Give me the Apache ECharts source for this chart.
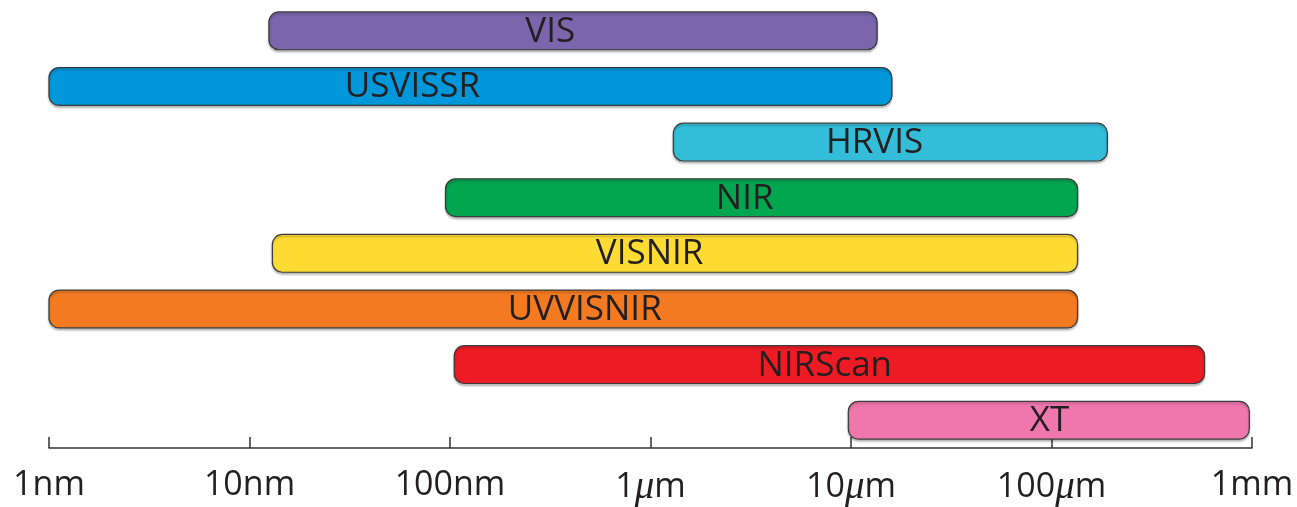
<!DOCTYPE html>
<html>
<head>
<meta charset="utf-8">
<script src="https://cdn.jsdelivr.net/npm/echarts@6/dist/echarts.min.js"></script>
<style>
html,body{margin:0;padding:0;background:#fff;}
#chart{width:1297px;height:507px;}
</style>
</head>
<body>
<div id="chart"></div>
<script>
// Wavelength ranges in nm (log scale 1 nm .. 1 mm)
var instruments = ['VIS', 'USVISSR', 'HRVIS', 'NIR', 'VISNIR', 'UVVISNIR', 'NIRScan', 'XT'];
var rangeStart  = [12.5, 1, 1300, 95, 13, 1, 105, 9700];
var rangeEnd    = [13500, 16000, 190000, 135000, 135000, 135000, 580000, 970000];
var labelAt     = [316, 65, 13100, 2950, 990, 470, 7400, 97800];
var barColors   = ['#7B65AD', '#0098DA', '#33BDD8', '#00A650', '#FEDB32', '#F37A21', '#ED1C24', '#F077AD'];
var tickLabels  = ['1nm', '10nm', '100nm', '1\u03bcm', '10\u03bcm', '100\u03bcm', '1mm'];

var seriesData = instruments.map(function (n, i) {
  return [i, rangeStart[i], rangeEnd[i], labelAt[i]];
});

var chart = echarts.init(document.getElementById('chart'));
var FONT = '"Open Sans", "Noto Sans", sans-serif';

chart.setOption({
  backgroundColor: '#ffffff',
  animation: false,
  grid: { left: 49, right: 45, top: 3, bottom: 57, containLabel: false },
  xAxis: {
    type: 'log',
    logBase: 10,
    min: 1,
    max: 1000000,
    axisLine: { show: true, lineStyle: { color: '#333333', width: 1.5 } },
    axisTick: { show: true, inside: true, length: 11, lineStyle: { color: '#333333', width: 1.5 } },
    splitLine: { show: false },
    axisLabel: {
      show: true,
      showMinLabel: true,
      showMaxLabel: true,
      margin: 20,
      color: '#231f20',
      fontFamily: FONT,
      fontSize: 34,
      formatter: function (v) {
        var idx = Math.round(Math.log(v) / Math.LN10);
        var t = tickLabels[idx] || '';
        var k = t.indexOf('\u03bc');
        if (k < 0) return '{n|' + t + '}';
        return '{n|' + t.slice(0, k) + '}{mu|\u03bc}{n|' + t.slice(k + 1) + '}';
      },
      rich: {
        n: { fontFamily: FONT, fontSize: 34, color: '#231f20' },
        mu: { fontFamily: '"Liberation Serif", "DejaVu Serif", serif', fontStyle: 'italic', fontSize: 39, color: '#231f20' }
      }
    }
  },
  yAxis: {
    type: 'category',
    data: instruments,
    inverse: true,
    show: false
  },
  series: [{
    type: 'custom',
    data: seriesData,
    encode: { x: [1, 2], y: 0 },
    renderItem: function (params, api) {
      var c = api.value(0);
      var p0 = api.coord([api.value(1), c]);
      var p1 = api.coord([api.value(2), c]);
      var pl = api.coord([api.value(3), c]);
      var h = api.size([1, 1])[1] * 0.68;
      var i = params.dataIndex;
      return {
        type: 'group',
        children: [{
          type: 'rect',
          shape: { x: p0[0], y: p0[1] - h / 2, width: p1[0] - p0[0], height: h, r: 10 },
          style: { fill: barColors[i], stroke: '#3a3a3a', lineWidth: 1.2,
                   shadowColor: 'rgba(0,0,0,0.25)', shadowOffsetY: 2, shadowBlur: 2 }
        }, {
          type: 'text',
          x: pl[0],
          y: p0[1] + 1,
          style: {
            text: instruments[i],
            fill: '#231f20',
            font: '35px ' + FONT,
            align: 'center',
            verticalAlign: 'middle'
          }
        }]
      };
    }
  }]
});
</script>
</body>
</html>
